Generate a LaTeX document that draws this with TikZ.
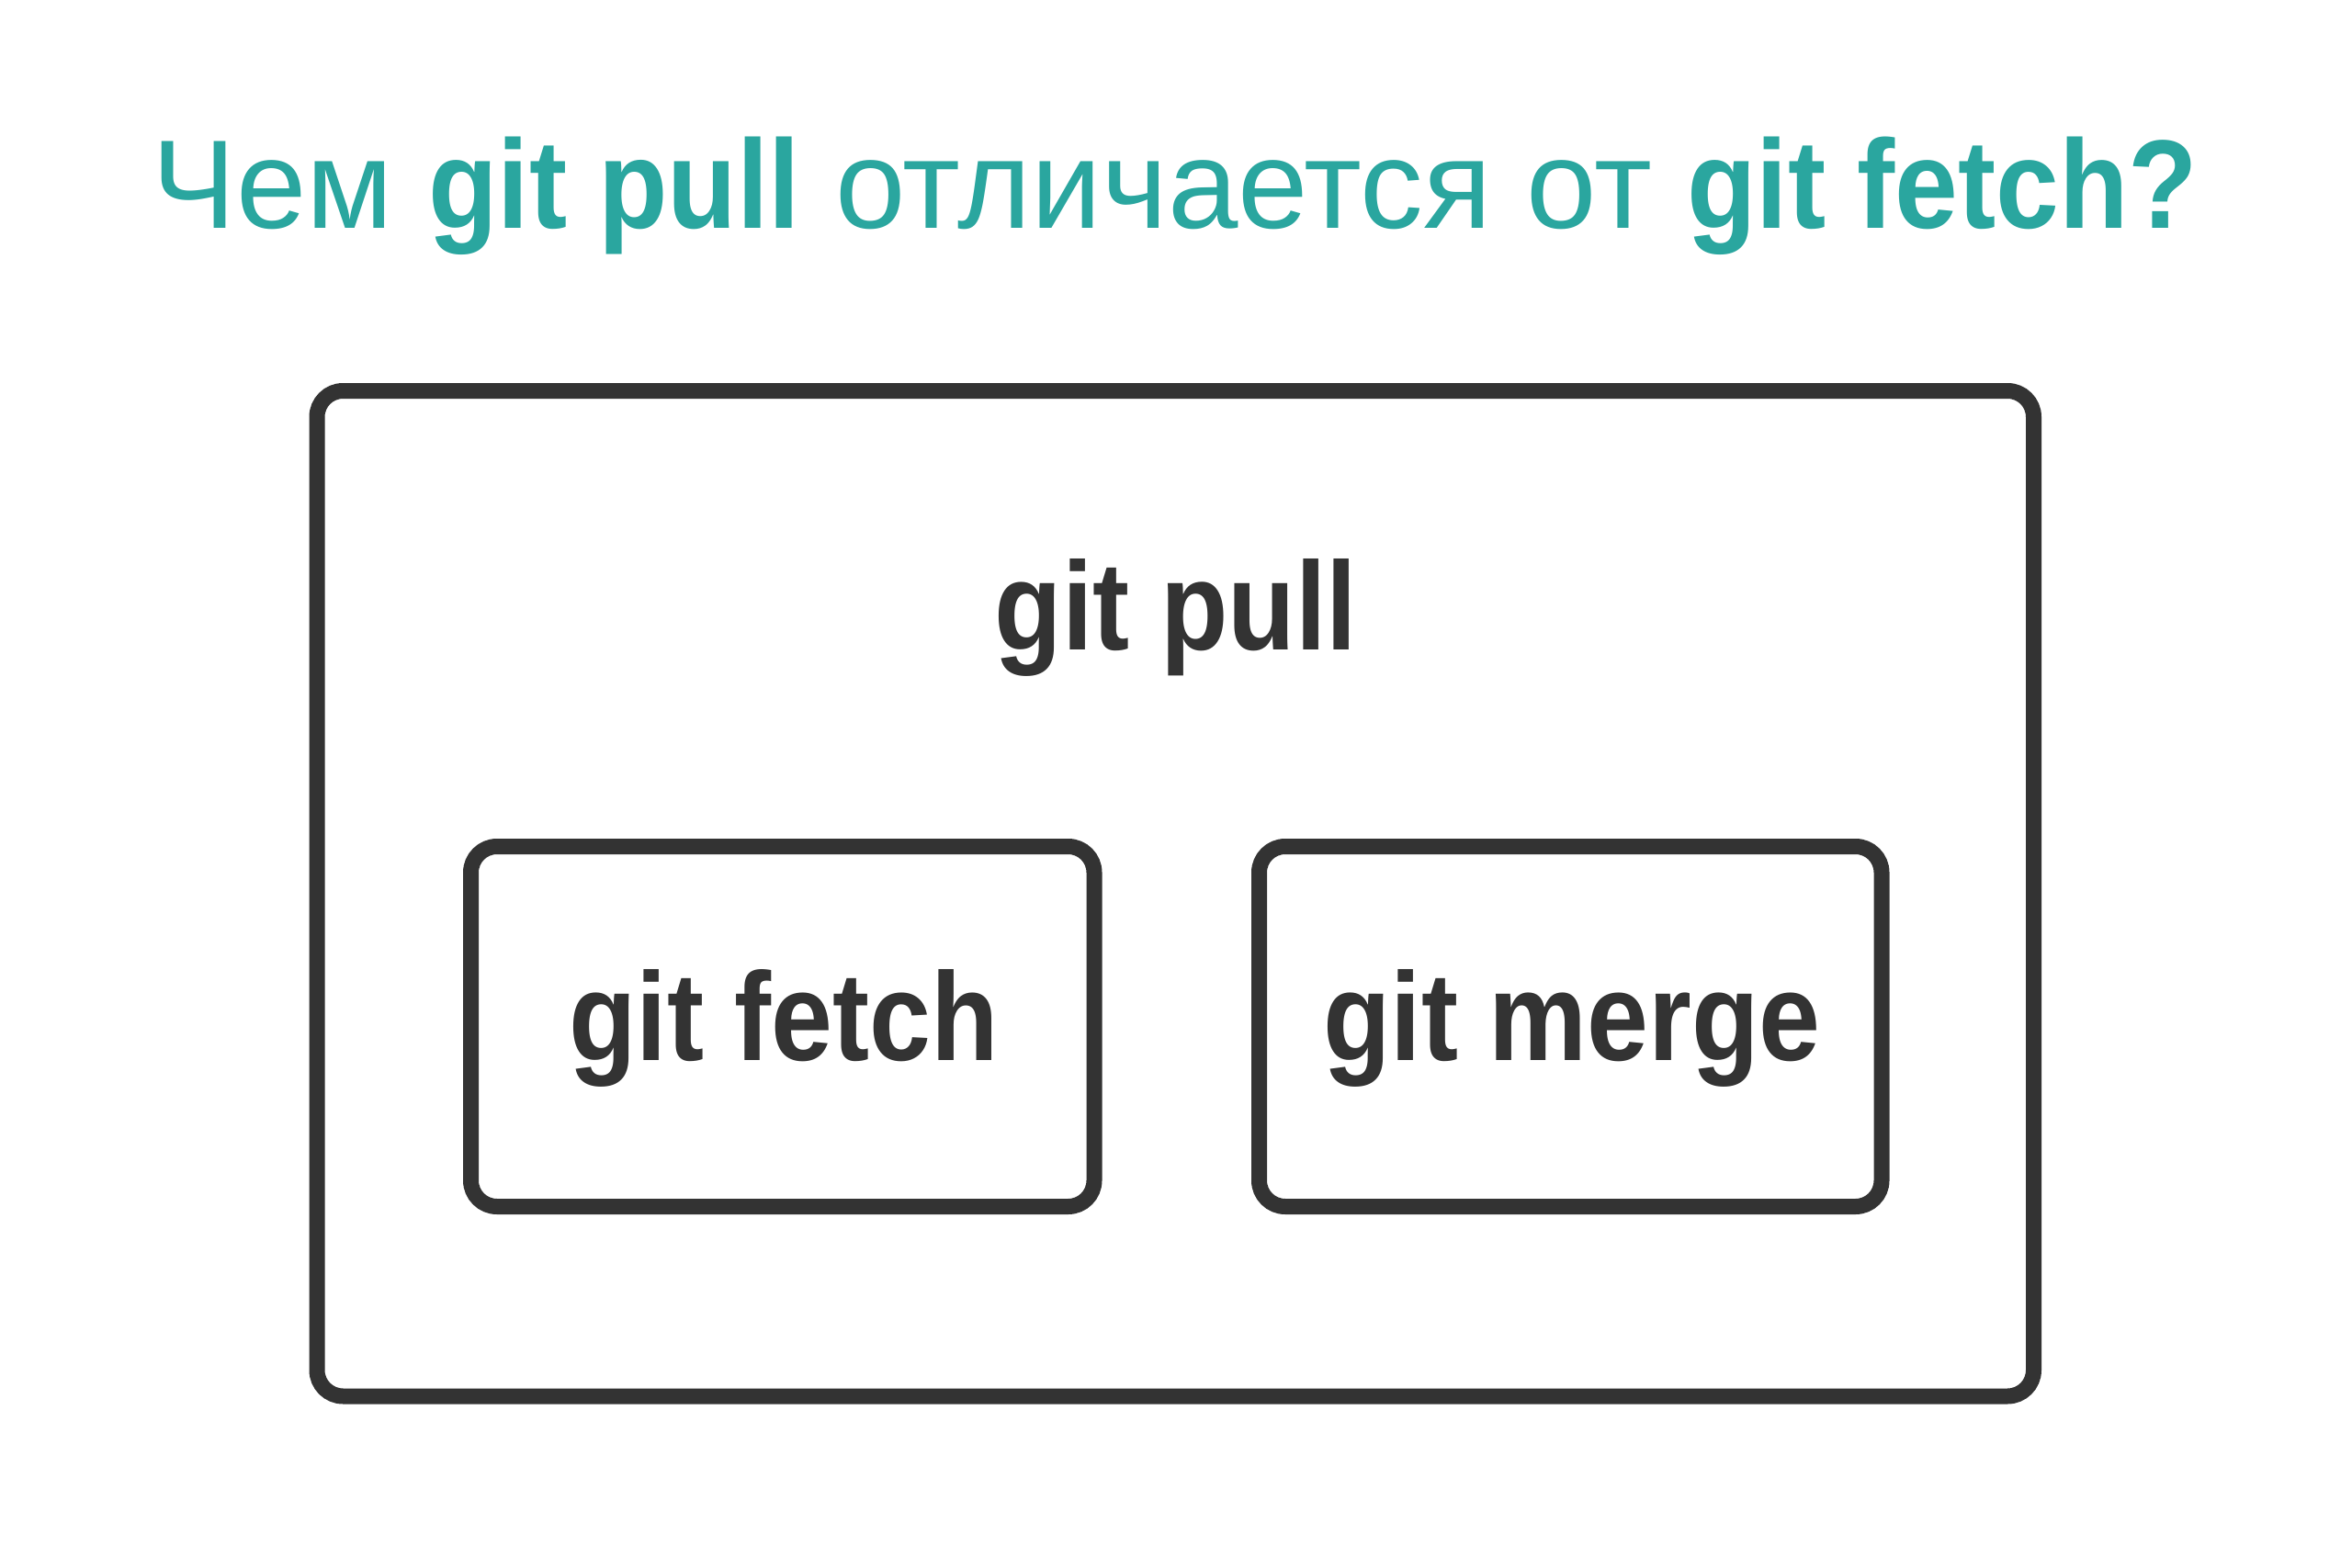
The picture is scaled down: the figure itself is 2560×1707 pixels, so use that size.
\documentclass[tikz,border=0pt]{standalone}
\usepackage{fontspec}
\setmainfont{Liberation Sans}[BoldFeatures={FakeStretch=0.88}]
\newfontfamily\ttlboldfont{Liberation Sans Bold}[FakeStretch=0.9]
\newcommand{\tb}[1]{{\ttlboldfont #1}}
\definecolor{teal2}{HTML}{2AA69F}
\definecolor{ink}{HTML}{333333}
\tikzset{
  boxstyle/.style={draw=ink, line width=5.1pt, rounded corners=8.5pt, inner sep=0pt, outer sep=0pt},
  lbl/.style={anchor=base, inner sep=0pt, text=ink, font=\fontsize{41}{48}\selectfont\bfseries},
  ttl/.style={anchor=base, inner sep=0pt, text=teal2, font=\fontsize{41.2}{48}\selectfont}
}
\begin{document}
\begin{tikzpicture}[x=0.3pt,y=-0.3pt]
\useasboundingbox[fill=white] (0,0) rectangle (2560,1707);
\node[ttl] (title) at (1279,249) {Чем \tb{git pull} отличается от \tb{git fetch?}};
\node[boxstyle, minimum width=560.55pt, minimum height=328.35pt] (outer) at (1279.25,972.75) {};
\node[lbl] (pull) at (1280,708) {git pull};
\node[boxstyle, minimum width=203.55pt, minimum height=117.6pt] (fetchbox) at (851.75,1117.5) {};
\node[boxstyle, minimum width=203.25pt, minimum height=117.6pt] (mergebox) at (1709.25,1117.5) {};
\node[lbl] (fetch) at (853,1154) {git fetch};
\node[lbl] (merge) at (1711,1154) {git merge};
\end{tikzpicture}
\end{document}
